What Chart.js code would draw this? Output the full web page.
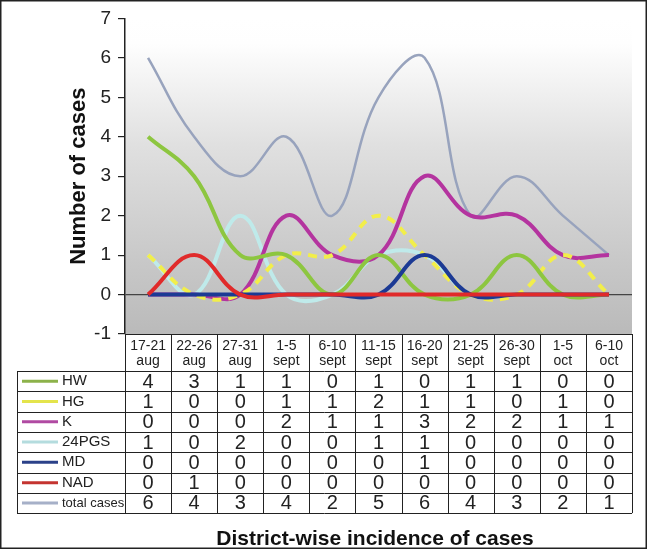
<!DOCTYPE html>
<html>
<head>
<meta charset="utf-8">
<script src="https://cdn.jsdelivr.net/npm/chart.js@4"></script>
<style>
	body { margin: 0; background: #fff; }
	#wrap { width: 649px; height: 550px; }
</style>
</head>
<body>
<div id="wrap"><canvas id="casos" width="649" height="550"></canvas></div>
<script>
// periods (column headers of the table)
var periods = [
	['17-21', 'aug'], ['22-26', 'aug'], ['27-31', 'aug'], ['1-5', 'sept'], ['6-10', 'sept'],
	['11-15', 'sept'], ['16-20', 'sept'], ['21-25', 'sept'], ['26-30', 'sept'], ['1-5', 'oct'], ['6-10', 'oct']
];

// values printed in the table
var hw = [4, 3, 1, 1, 0, 1, 0, 1, 1, 0, 0];
var hg = [1, 0, 0, 1, 1, 2, 1, 1, 0, 1, 0];
var k = [0, 0, 0, 2, 1, 1, 3, 2, 2, 1, 1];
var pgs24 = [1, 0, 2, 0, 0, 1, 1, 0, 0, 0, 0];
var md = [0, 0, 0, 0, 0, 0, 1, 0, 0, 0, 0];
var nad = [0, 1, 0, 0, 0, 0, 0, 0, 0, 0, 0];
var total = [6, 4, 3, 4, 2, 5, 6, 4, 3, 2, 1];

// curves as drawn in the plot (they differ from the table at 21-25 sept)
var hwCurve = [4, 3, 1, 1, 0, 1, 0, 0, 1, 0, 0];
var hgCurve = [1, 0, 0, 1, 1, 2, 1, 0, 0, 1, 0];
var totalCurve = [6, 4, 3, 4, 2, 5, 6, 2, 3, 2, 1];

var yTicks = [-1, 0, 1, 2, 3, 4, 5, 6, 7];

var FONT = 'Arial, "Liberation Sans", sans-serif';

var tableRows = [
	{ name: 'HW', values: hw, legend: '#8cb24a' },
	{ name: 'HG', values: hg, legend: '#e4e44c' },
	{ name: 'K', values: k, legend: '#b04aa2' },
	{ name: '24PGS', values: pgs24, legend: '#b4dcde' },
	{ name: 'MD', values: md, legend: '#2b4189' },
	{ name: 'NAD', values: nad, legend: '#c43430' },
	{ name: 'total cases', values: total, legend: '#a6b0c8' }
];

var bgPlugin = {
	id: 'bg',
	beforeDraw(chart) {
		var ctx = chart.ctx, a = chart.chartArea;
		var g = ctx.createLinearGradient(0, a.top, 0, a.bottom);
		g.addColorStop(0, '#ffffff');
		g.addColorStop(0.08, '#fefefe');
		g.addColorStop(0.4, '#e0e0e0');
		g.addColorStop(0.8, '#c6c6c6');
		g.addColorStop(1, '#bababa');
		ctx.save();
		ctx.fillStyle = g;
		ctx.fillRect(a.left, a.top, a.right - a.left, a.bottom - a.top);
		ctx.restore();
	}
};

var tablePlugin = {
	id: 'table',
	afterDraw(chart) {
		var ctx = chart.ctx;
		var xs = chart.scales.x;
		var a = chart.chartArea;
		var n = periods.length;
		var colW = (a.right - a.left) / n;
		var top = a.bottom, headBottom = 371, rowH = 20.3;
		var bottom = headBottom + rowH * tableRows.length;
		var legLeft = 17;

		ctx.save();
		ctx.strokeStyle = '#222';
		ctx.lineWidth = 1;
		ctx.beginPath();
		// header top line
		ctx.moveTo(a.left, top + 0.5); ctx.lineTo(a.right, top + 0.5);
		// vertical column lines
		for (var i = 0; i <= n; i++) {
			var x = Math.round(a.left + i * colW) + 0.5;
			ctx.moveTo(x, top); ctx.lineTo(x, bottom);
		}
		// row lines
		for (var r = 0; r <= tableRows.length; r++) {
			var y = Math.round(headBottom + r * rowH) + 0.5;
			ctx.moveTo(legLeft, y); ctx.lineTo(a.right, y);
		}
		ctx.moveTo(legLeft + 0.5, headBottom); ctx.lineTo(legLeft + 0.5, bottom);
		ctx.stroke();

		// header labels
		ctx.fillStyle = '#222';
		ctx.textAlign = 'center';
		ctx.textBaseline = 'middle';
		ctx.font = '14px ' + FONT;
		periods.forEach(function(p, i) {
			var cx = xs.getPixelForValue(i);
			ctx.fillText(p[0], cx, top + 12);
			ctx.fillText(p[1], cx, top + 27);
		});

		// rows
		tableRows.forEach(function(row, r) {
			var cy = headBottom + r * rowH + rowH / 2 + 1;
			ctx.font = '20px ' + FONT;
			ctx.textAlign = 'center';
			row.values.forEach(function(v, i) {
				ctx.fillText(String(v), xs.getPixelForValue(i), cy);
			});
			ctx.strokeStyle = row.legend;
			ctx.lineWidth = 3;
			ctx.beginPath();
			ctx.moveTo(22, cy - 1); ctx.lineTo(58, cy - 1);
			ctx.stroke();
			ctx.textAlign = 'left';
			ctx.font = (row.name === 'total cases' ? '13px ' : '15px ') + FONT;
			ctx.fillText(row.name, 62, cy - 1);
		});

		// bottom caption
		ctx.font = 'bold 21px ' + FONT;
		ctx.textAlign = 'center';
		ctx.textBaseline = 'alphabetic';
		ctx.fillStyle = '#111';
		ctx.fillText('District-wise incidence of cases', 375, 545);

		// frame
		ctx.strokeStyle = '#222';
		ctx.lineWidth = 1.5;
		ctx.strokeRect(0.75, 0.75, 645.5, 547.5);
		ctx.restore();
	}
};

function line(label, data, color, width, order, dash) {
	return {
		label: label,
		data: data,
		borderColor: color,
		borderWidth: width,
		borderDash: dash || [],
		pointRadius: 0,
		tension: 0.4,
		fill: false,
		order: order
	};
}

var dataset = {
	labels: periods,
	datasets: [
		line('HW', hwCurve, '#8dc640', 4, 2),
		line('HG', hgCurve, '#f2ee4a', 4, 3, [9, 7]),
		line('K', k, '#b4349f', 4, 4),
		line('24PGS', pgs24, '#bfeaea', 4, 5),
		line('MD', md, '#1c3a94', 4, 1),
		line('NAD', nad, '#e02a2a', 4, 0),
		line('total cases', totalCurve, '#98a3bd', 2.5, 6)
	]
};

var configNew = {
	type: 'line',
	data: dataset,
	options: {
		responsive: false,
		animation: false,
		layout: { padding: { top: 10, right: 17, left: 0, bottom: 0 } },
		plugins: {
			legend: { display: false },
			tooltip: { enabled: false }
		},
		scales: {
			x: {
				offset: true,
				grid: { display: false },
				border: { display: false },
				ticks: { display: false },
				afterFit(scale) { scale.height = 216; }
			},
			y: {
				min: -1,
				max: 7,
				afterBuildTicks(scale) { scale.ticks = yTicks.map(function(v) { return { value: v }; }); },
				ticks: {
					color: '#222',
					padding: 7,
					font: { family: FONT, size: 19 }
				},
				grid: {
					color: function(c) { return c.tick && c.tick.value === 0 ? '#444' : 'rgba(0,0,0,0)'; },
					tickColor: '#222',
					tickLength: 7,
					lineWidth: 1.2
				},
				border: { display: true, color: '#222', width: 1.5 },
				title: {
					display: true,
					text: 'Number of cases',
					color: '#111',
					font: { family: FONT, size: 22, weight: 'bold' },
					padding: { top: 66, bottom: 0 }
				},
				afterFit(scale) { scale.width = 125; }
			}
		}
	},
	plugins: [bgPlugin, tablePlugin]
};

var myChartNew = new Chart(document.getElementById('casos'), configNew);
</script>
</body>
</html>
